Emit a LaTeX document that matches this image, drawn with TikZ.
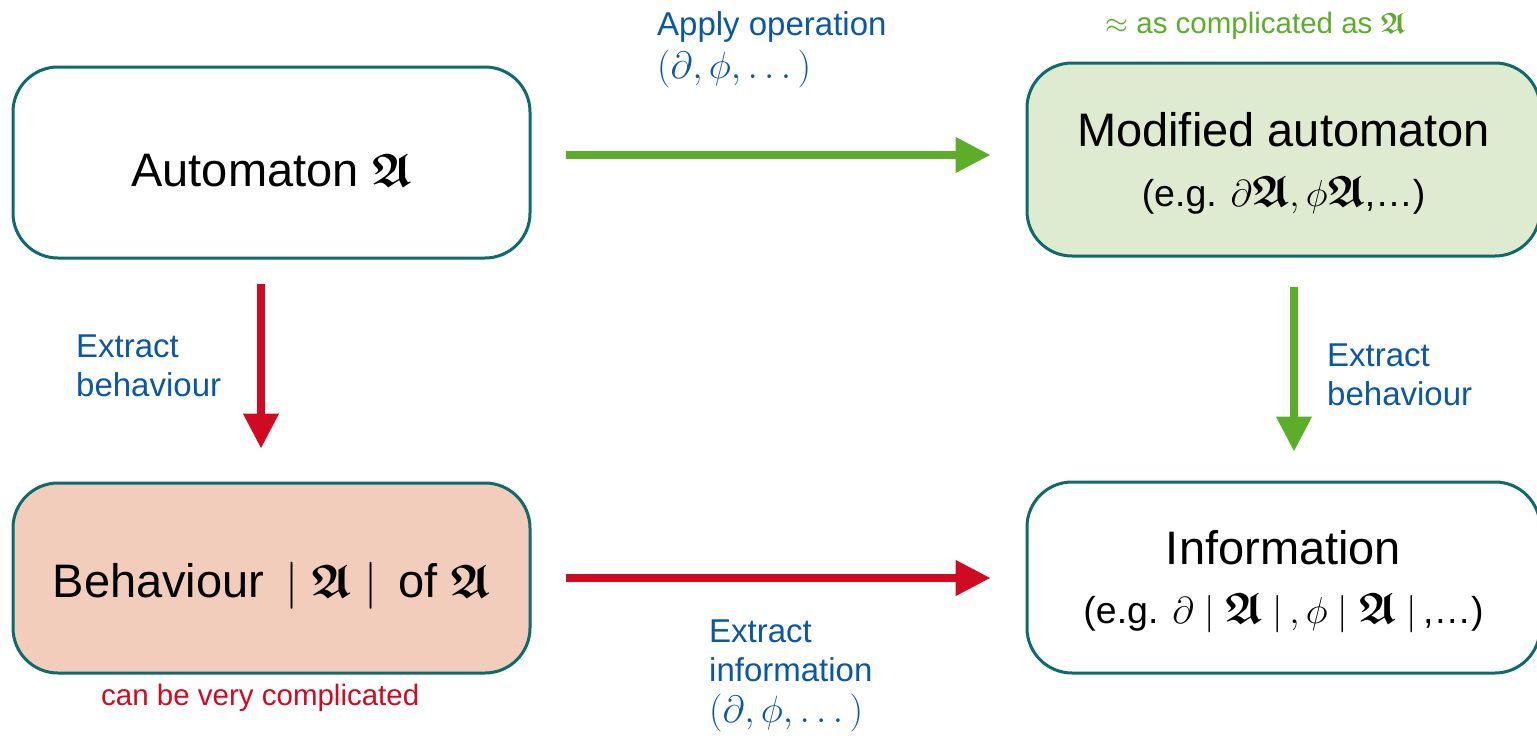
\RequirePackage{fix-cm}
\documentclass[tikz,border=0pt]{standalone}
\usepackage{amsmath,amssymb}
\usepackage{fontspec}
\setmainfont{Liberation Sans}
\usetikzlibrary{arrows.meta}
\definecolor{teal1}{HTML}{0E6A6B}
\definecolor{grn}{HTML}{5BAD2A}
\definecolor{rd}{HTML}{D00A22}
\definecolor{blu}{HTML}{0B57A4}
\definecolor{gfill}{HTML}{DEEBD1}
\definecolor{pfill}{HTML}{F2CDBB}
\newcommand{\fA}{\boldsymbol{\mathfrak{A}}}
\newcommand{\fAs}{\mbox{\fontsize{44}{50}\selectfont$\fA$}}
\newcommand{\subtxt}{\fontsize{37.5}{42}\selectfont}
\newcommand{\lblmath}[1]{{\fontsize{38}{40}\selectfont$#1$}}
\tikzset{
  box/.style={draw=teal1, line width=3pt, rounded corners=45pt, align=center, inner sep=0pt,
    font=\fontsize{47}{55}\selectfont},
  lbl/.style={text=blu, align=left, anchor=north west, inner sep=0pt, font=\fontsize{33}{39}\selectfont},
  note/.style={anchor=base west, inner sep=0pt, font=\fontsize{29.5}{34}\selectfont},
  garrow/.style={draw=grn, line width=7.5pt, -{Triangle[length=35pt,width=34pt]}},
  rarrow/.style={draw=rd, line width=7.5pt, -{Triangle[length=35pt,width=34pt]}},
}
\begin{document}
\begin{tikzpicture}[x=1pt,y=-1pt]
\useasboundingbox (0,0) rectangle (1537,736);
\clip (0,0) rectangle (1537,736);
\node[box, minimum width=517pt, minimum height=191pt, text height=47pt, text depth=0pt] (A) at (271.5,162.5)
  {Automaton $\fA$};
\node[box, fill=gfill, minimum width=513pt, minimum height=193pt] (M) at (1283.5,159.5)
  {\rule{0pt}{41pt}Modified automaton\\[5pt] {\subtxt (e.g. $\partial\fAs, \phi\fAs$,\dots)}};
\node[box, fill=pfill, minimum width=517pt, minimum height=190pt, text height=38pt, text depth=0pt] (B) at (271.5,578)
  {Behaviour $\,\lvert\;\fA\;\rvert\,$ of $\fA$};
\node[box, minimum width=513pt, minimum height=191pt] (I) at (1283.5,577.5)
  {\rule{0pt}{42pt}Information\\[4pt] {\subtxt (e.g. $\partial\;\lvert\;\fAs\;\rvert\,,\phi\;\lvert\;\fAs\;\rvert\,$,\dots)}};

\draw[garrow, shorten <=34pt, shorten >=35pt] (A.east |- 0,155) -- (M.west |- 0,155);
\draw[rarrow, shorten <=34pt, shorten >=35pt] (B.east |- 0,578) -- (I.west |- 0,578);
\draw[rarrow, shorten <=24pt, shorten >=33pt] (A.south -| 261,0) -- (B.north -| 261,0);
\draw[garrow, shorten <=29pt, shorten >=29pt] (M.south -| 1294,0) -- (I.north -| 1294,0);

\node[lbl] (l1) at (657,11) {Apply operation\\[4pt] \lblmath{(\partial,\phi,\dots)}};
\node[lbl] (l2) at (76,335) {Extract\\behaviour};
\node[lbl] (l3) at (1327,344) {Extract\\behaviour};
\node[lbl] (l4) at (709,620) {Extract\\information\\[2pt] \lblmath{(\partial,\phi,\dots)}};
\node[note, text=grn] (n1) at (1105,33) {$\approx$ as complicated as $\fA$};
\node[note, text=rd] (n2) at (101,705) {can be very complicated};
\end{tikzpicture}
\end{document}
